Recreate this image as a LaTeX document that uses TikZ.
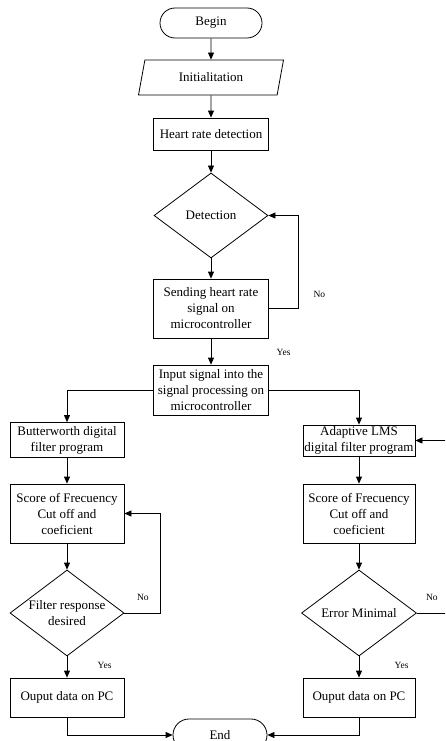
\documentclass[tikz,border=0pt]{standalone}
\usepackage{fontspec}
\setmainfont{Liberation Serif}
\usetikzlibrary{shapes.geometric,arrows.meta}

\begin{document}
\begin{tikzpicture}[x=1pt,y=-1pt,>={Triangle[length=7pt,width=6pt]},line width=0.8pt,
  font=\fontsize{13}{16}\selectfont,
  box/.style={draw,align=center,inner sep=1pt},
  decision/.style={draw,diamond,aspect=1.33,inner sep=0pt,align=center},
  term/.style={draw,rounded corners=15pt,minimum height=30pt},
  tag/.style={font=\fontsize{9.5}{11}\selectfont}]
  \useasboundingbox (0,0) rectangle (445,741);
  \clip (0,0) rectangle (445,741);

  \node[term,minimum width=102pt] (begin) at (211,23) {Begin};
  \node[draw,trapezium,trapezium left angle=68,trapezium right angle=112,trapezium stretches body,minimum width=145pt,minimum height=35pt] (init) at (211,77.5) {Initialitation};
  \node[box,minimum width=115pt,minimum height=32pt] (hrd) at (211,134) {Heart rate detection};
  \node[decision,minimum width=114pt,minimum height=85pt] (det) at (211,215.5) {Detection};
  \node[box,minimum width=115pt,minimum height=59pt] (send) at (211,308.5) {Sending heart rate\\signal on\\microcontroller};
  \node[box,minimum width=115pt,minimum height=50pt] (input) at (211,390) {Input signal into the\\signal processing on\\microcontroller};

  \node[box,minimum width=114pt,minimum height=35pt] (bw) at (67,440) {Butterworth digital\\filter program};
  \node[box,minimum width=114pt,minimum height=59pt] (scoreL) at (67,513.5) {Score of Frecuency\\Cut off and\\coeficient};
  \node[decision,minimum width=114pt,minimum height=86pt] (filt) at (67,613) {Filter response\\desired};
  \node[box,minimum width=114pt,minimum height=39pt] (outL) at (67,697.5) {Ouput data on PC};

  \node[box,minimum width=112pt,minimum height=31pt] (lms) at (359,440.5) {Adaptive LMS\\digital filter program};
  \node[box,minimum width=112pt,minimum height=59pt] (scoreR) at (359,513.5) {Score of Frecuency\\Cut off and\\coeficient};
  \node[decision,minimum width=115pt,minimum height=86pt] (err) at (359,613) {Error Minimal};
  \node[box,minimum width=112pt,minimum height=39pt] (outR) at (359,697.5) {Ouput data on PC};

  \node[term,minimum width=94pt,minimum height=32pt,rounded corners=16pt] (end) at (220,735) {End};

  \draw[->] (begin) -- (init);
  \draw[->] (init) -- (hrd);
  \draw[->] (hrd) -- (det);
  \draw[->] (det) -- (send);
  \draw[->] (send) -- (input) node[tag,pos=0.55,right=62pt] (yes1) {Yes};
  \draw[->] (send.east) -- ++(29,0) node[tag,right=12pt,yshift=14pt] (no1) {No} |- (det.east);
  \draw[->] (input.west) -| (bw.north);
  \draw[->] (input.east) -| (lms.north);

  \draw[->] (bw) -- (scoreL);
  \draw[->] (scoreL) -- (filt);
  \draw[->] (filt) -- (outL) node[tag,midway,right=27pt,yshift=2pt] (yes2) {Yes};
  \draw[->] (filt.east) -- ++(36,0) node[tag,left=8pt,yshift=16pt] (no2) {No} |- (scoreL.east);
  \draw[->] (outL.south) |- (end.west);

  \draw[->] (lms) -- (scoreR);
  \draw[->] (scoreR) -- (err);
  \draw[->] (err) -- (outR) node[tag,midway,right=32pt,yshift=2pt] (yes3) {Yes};
  \draw[->] (err.east) -- ++(60,0) node[tag,pos=0.25,yshift=16pt] (no3) {No} |- (lms.east);
  \draw[->] (outR.south) |- (end.east);
\end{tikzpicture}
\end{document}
